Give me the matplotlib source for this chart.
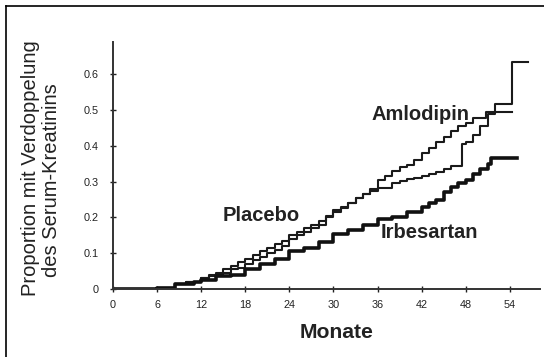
import matplotlib
matplotlib.use("Agg")
import matplotlib.pyplot as plt
from matplotlib.lines import Line2D

plt.rcParams['font.family'] = ['Liberation Sans', 'DejaVu Sans']

# Months and cumulative proportions (step curves)
irb_months = [0, 6, 8.5, 11, 12, 14, 16, 18, 20, 22, 24, 26, 28, 30, 32, 34, 36, 38, 40, 42, 43, 44, 45, 46, 47, 48, 49, 50, 51, 51.4, 55]
irb_values = [0, 0.003, 0.015, 0.02, 0.025, 0.035, 0.04, 0.055, 0.07, 0.085, 0.105, 0.115, 0.13, 0.155, 0.165, 0.18, 0.196, 0.2, 0.215, 0.23, 0.24, 0.25, 0.27, 0.285, 0.295, 0.305, 0.32, 0.335, 0.35, 0.367, 0.367]

a_months = [0, 6, 8.5, 10, 12, 13, 14, 15, 16, 17, 18, 19, 20, 21, 22, 23, 24, 25, 26, 27, 28, 29, 30, 31, 32, 33, 34, 35, 36, 37, 38, 39, 40, 41, 42, 43, 44, 45, 46, 47, 48, 49, 50.8, 54.3]
a_values = [0, 0.003, 0.015, 0.02, 0.03, 0.04, 0.045, 0.055, 0.065, 0.075, 0.085, 0.095, 0.105, 0.115, 0.125, 0.135, 0.15, 0.16, 0.17, 0.18, 0.19, 0.205, 0.22, 0.23, 0.24, 0.255, 0.265, 0.28, 0.305, 0.315, 0.33, 0.34, 0.345, 0.36, 0.38, 0.395, 0.41, 0.425, 0.44, 0.455, 0.465, 0.478, 0.494, 0.494]

b_months = [0, 6, 8.5, 10, 12, 13, 14, 15, 16, 17, 18, 19, 20, 21, 22, 23, 24, 25, 26, 27, 28, 29, 30, 31, 32, 33, 34, 35, 36, 38, 39, 40, 41, 42, 43, 44, 45, 46, 47.5, 48, 49, 50, 51, 52, 54.3, 56.4]
b_values = [0, 0.003, 0.015, 0.02, 0.03, 0.035, 0.04, 0.045, 0.055, 0.06, 0.07, 0.08, 0.09, 0.1, 0.11, 0.12, 0.14, 0.15, 0.16, 0.17, 0.18, 0.2, 0.215, 0.225, 0.24, 0.255, 0.265, 0.275, 0.283, 0.295, 0.303, 0.307, 0.311, 0.317, 0.322, 0.328, 0.335, 0.343, 0.405, 0.41, 0.43, 0.455, 0.49, 0.516, 0.635, 0.635]

x_ticks = [0, 6, 12, 18, 24, 30, 36, 42, 48, 54]
y_ticks = [0, 0.1, 0.2, 0.3, 0.4, 0.5, 0.6]
y_tick_labels = ["0", "0.1", "0.2", "0.3", "0.4", "0.5", "0.6"]

fig = plt.figure(figsize=(5.44, 3.57), dpi=100)
ax = fig.add_axes([113/544, 68/357, 427/544, 247/357])

tc = '#222222'
ax.step(a_months, a_values, where='post', color='#1a1a1a', lw=1.5)
ax.step(b_months, b_values, where='post', color='#1a1a1a', lw=1.5)
ax.step(irb_months, irb_values, where='post', color='#111111', lw=2.6)

ax.set_xlim(0, 58.1)
ax.set_ylim(0, 247/358)
ax.spines['top'].set_visible(False)
ax.spines['right'].set_visible(False)
for s in ['left', 'bottom']:
    ax.spines[s].set_linewidth(1.4)
    ax.spines[s].set_color('#333333')
ax.set_xticks(x_ticks)
ax.set_yticks(y_ticks)
ax.set_yticklabels(y_tick_labels)
ax.tick_params(axis='both', labelsize=7.8, colors=tc, direction='inout', length=4, width=1)
ax.tick_params(axis='y', pad=8)
ax.tick_params(axis='x', pad=6)

lab = dict(fontsize=14.5, fontweight='bold', color=tc, ha='center', va='center')
ax.text(20.1, 0.205, "Placebo", **lab)
ax.text(41.8, 0.487, "Amlodipin", **lab)
ax.text(43.0, 0.158, "Irbesartan", **lab)

fig.text(337/544, 1 - 333/357, "Monate", fontsize=15.2, fontweight='bold', color=tc, ha='center', va='center')
fig.text(31/544, 1 - 168/357, "Proportion mit Verdoppelung", fontsize=14.5, color=tc,
         rotation=90, ha='center', va='center')
fig.text(52/544, 1 - 180/357, "des Serum-Kreatinins", fontsize=14.5, color=tc,
         rotation=90, ha='center', va='center')

# frame lines at top and left
fig.add_artist(Line2D([6/544, 6/544], [0, 1 - 6/357], transform=fig.transFigure, color='black', lw=1.2))
fig.add_artist(Line2D([6/544, 1], [1 - 6/357, 1 - 6/357], transform=fig.transFigure, color='black', lw=1.2))

fig.savefig("out.png", dpi=100)
